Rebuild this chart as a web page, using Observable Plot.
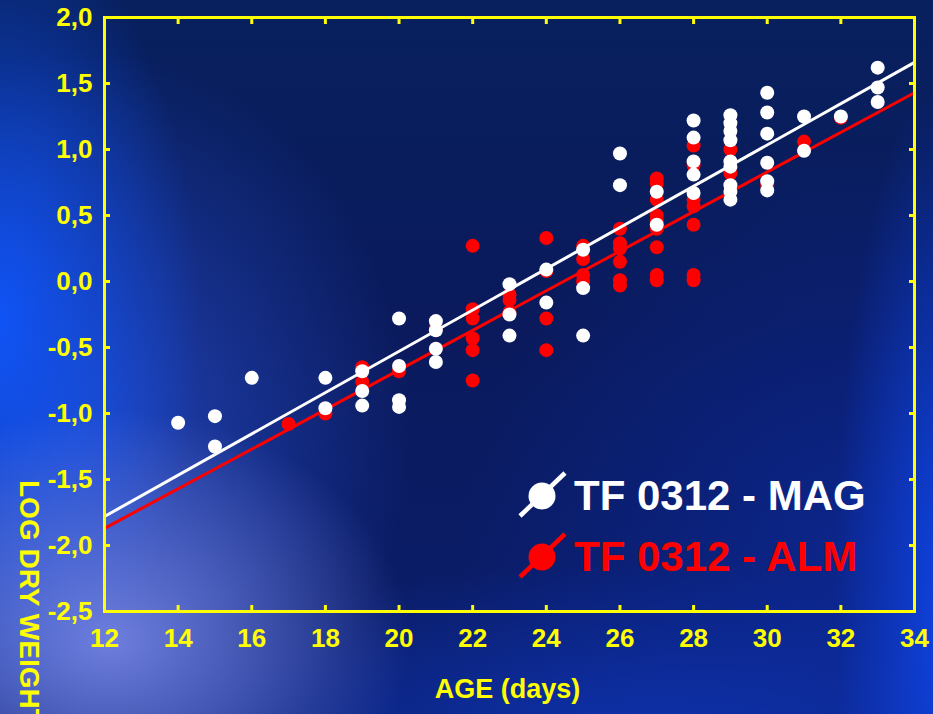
<!DOCTYPE html>
<html>
<head>
<meta charset="utf-8">
<script src="https://cdn.jsdelivr.net/npm/d3@7"></script>
<script src="https://cdn.jsdelivr.net/npm/@observablehq/plot@0.6"></script>
<style>
html, body { margin: 0; padding: 0; width: 933px; height: 714px; overflow: hidden; }
body {
  position: relative;
  font-family: "Liberation Sans", Arial, sans-serif;
  background:
    radial-gradient(ellipse 300px 230px at 110px 640px, rgba(125,140,235,0.85), rgba(125,140,235,0) 100%),
    radial-gradient(ellipse 200px 400px at 0px 320px, rgba(15,85,250,0.95), rgba(15,85,250,0) 100%),
    radial-gradient(ellipse 330px 380px at 80px 430px, rgba(40,80,210,0.8), rgba(40,80,210,0) 100%),
    radial-gradient(ellipse 110px 520px at 945px 600px, rgba(15,70,235,0.9), rgba(15,70,235,0) 100%),
    radial-gradient(ellipse 400px 420px at 860px 560px, rgba(12,45,170,0.55), rgba(12,45,170,0) 100%),
    radial-gradient(ellipse 520px 180px at 650px 740px, rgba(15,60,200,0.7), rgba(15,60,200,0) 100%),
    linear-gradient(180deg, #08205e 0%, #0a1a5c 45%, #0b1d6c 100%);
}
#chart { position: absolute; left: 0; top: 0; }
#ylabel {
  position: absolute; left: 45px; top: 480px;
  transform: rotate(90deg); transform-origin: 0 0;
  color: #ffff00; font-weight: bold; font-size: 28px; line-height: 32px;
  white-space: nowrap;
}
#legend { position: absolute; left: 0; top: 0; pointer-events: none; }
</style>
</head>
<body>
<div id="chart"></div>
<div id="ylabel">LOG DRY WEIGHT</div>
<svg id="legend" width="933" height="714"></svg>
<script>
// ---- data ----
const magAge = [14, 15, 15, 16, 18, 18, 19, 19, 19, 20, 20, 20, 20, 21, 21, 21, 21,
  23, 23, 23, 24, 24, 25, 25, 25, 26, 26, 27, 27,
  28, 28, 28, 28, 28,
  29, 29, 29, 29, 29, 29, 29, 29, 29,
  30, 30, 30, 30, 30, 30, 31, 31, 32, 33, 33, 33];
const magLogDW = [-1.07, -1.02, -1.25, -0.73, -0.73, -0.96, -0.68, -0.83, -0.94, -0.28, -0.64, -0.90, -0.95, -0.30, -0.37, -0.51, -0.61,
  -0.02, -0.25, -0.41, 0.09, -0.16, 0.24, -0.05, -0.41, 0.97, 0.73, 0.68, 0.43,
  1.22, 1.09, 0.91, 0.81, 0.67,
  1.26, 1.20, 1.14, 1.07, 0.91, 0.87, 0.73, 0.68, 0.62,
  1.43, 1.28, 1.12, 0.90, 0.76, 0.69, 1.25, 0.99, 1.25, 1.62, 1.47, 1.36];

const almAge = [17, 18, 19, 19, 20, 21,
  22, 22, 22, 22, 22, 22, 23, 23, 23,
  24, 24, 24, 24, 25, 25, 25, 25,
  26, 26, 26, 26, 26, 26,
  27, 27, 27, 27, 27, 27, 27, 27, 27,
  28, 28, 28, 28, 28, 28, 28,
  29, 29, 30, 31, 32];
const almLogDW = [-1.08, -1.00, -0.65, -0.76, -0.68, -0.35,
  0.27, -0.21, -0.28, -0.43, -0.52, -0.75, -0.10, -0.14, -0.23,
  0.33, 0.08, -0.28, -0.52, 0.27, 0.17, 0.05, 0.00,
  0.40, 0.29, 0.25, 0.15, 0.01, -0.03,
  0.78, 0.74, 0.62, 0.50, 0.46, 0.40, 0.26, 0.05, 0.01,
  1.03, 0.88, 0.62, 0.57, 0.43, 0.05, 0.01,
  1.00, 0.82, 0.73, 1.06, 1.24];

// fitted regression lines (end values)
const fitAge = [12, 34];
const magFit = [-1.78, 1.66];
const almFit = [-1.87, 1.43];

const xTicks = [12, 14, 16, 18, 20, 22, 24, 26, 28, 30, 32, 34];
const yTicks = [-2.5, -2.0, -1.5, -1.0, -0.5, 0.0, 0.5, 1.0, 1.5, 2.0];

const seriesNames = ["TF 0312 - MAG", "TF 0312 - ALM"];
const seriesColors = ["#ffffff", "#ff0000"];
const xTitle = "AGE (days)";

// ---- build tables ----
const mag = magAge.map((a, i) => ({age: a, logdw: magLogDW[i]}));
const alm = almAge.map((a, i) => ({age: a, logdw: almLogDW[i]}));
const fit = fitAge.map((a, i) => ({age: a, mag: magFit[i], alm: almFit[i]}));

const yellow = "#ffff00";
const fmt = d => d.toFixed(1).replace(".", ",");

const chart = Plot.plot({
  width: 933,
  height: 714,
  marginLeft: 104,
  marginRight: 19,
  marginTop: 17,
  marginBottom: 103,
  style: {background: "transparent", color: yellow, fontFamily: "'Liberation Sans', Arial, sans-serif", overflow: "visible"},
  x: {domain: [12, 34]},
  y: {domain: [-2.5, 2.0]},
  marks: [
    Plot.dot(alm, {x: "age", y: "logdw", r: 7, fill: seriesColors[1]}),
    Plot.line(fit, {x: "age", y: "alm", stroke: seriesColors[1], strokeWidth: 3}),
    Plot.line(fit, {x: "age", y: "mag", stroke: seriesColors[0], strokeWidth: 3}),
    Plot.dot(mag, {x: "age", y: "logdw", r: 7, fill: seriesColors[0]}),
    // inward ticks on all four sides
    Plot.axisX({ticks: xTicks, anchor: "bottom", tickSize: -6, text: null, stroke: yellow, strokeWidth: 3, label: null}),
    Plot.axisX({ticks: xTicks, anchor: "top", tickSize: -6, text: null, stroke: yellow, strokeWidth: 3, label: null}),
    Plot.axisY({ticks: yTicks, anchor: "left", tickSize: -6, text: null, stroke: yellow, strokeWidth: 3, label: null}),
    Plot.axisY({ticks: yTicks, anchor: "right", tickSize: -6, text: null, stroke: yellow, strokeWidth: 3, label: null}),
    // tick labels
    Plot.axisX({ticks: xTicks, anchor: "bottom", tickSize: 0, tickPadding: 17, fill: yellow, fontSize: 26, fontWeight: "bold", label: null, tickFormat: d => String(d)}),
    Plot.axisY({ticks: yTicks, anchor: "left", tickSize: 0, tickPadding: 12, fill: yellow, fontSize: 26, fontWeight: "bold", label: null, tickFormat: fmt}),
    Plot.frame({stroke: yellow, strokeWidth: 3}),
    Plot.text([xTitle], {frameAnchor: "bottom", dy: 86, dx: -2, fill: yellow, fontSize: 27, fontWeight: "bold"})
  ]
});
document.getElementById("chart").appendChild(chart);

// ---- legend ----
const lg = d3.select("#legend");
const legendRows = seriesNames.map((name, i) => ({name, color: seriesColors[i], row: i}));
const rowY = [496, 557];
legendRows.forEach(d => {
  const cy = rowY[d.row];
  lg.append("line").attr("x1", 520).attr("y1", cy + 20).attr("x2", 565).attr("y2", cy - 23)
    .attr("stroke", d.color).attr("stroke-width", 4.5);
  lg.append("circle").attr("cx", 542).attr("cy", cy).attr("r", 13.5).attr("fill", d.color);
  lg.append("text").attr("x", 574).attr("y", cy + 14)
    .attr("fill", d.color).attr("font-size", 42).attr("font-weight", "bold")
    .attr("font-family", "'Liberation Sans', Arial, sans-serif")
    .text(d.name);
});
</script>
</body>
</html>
